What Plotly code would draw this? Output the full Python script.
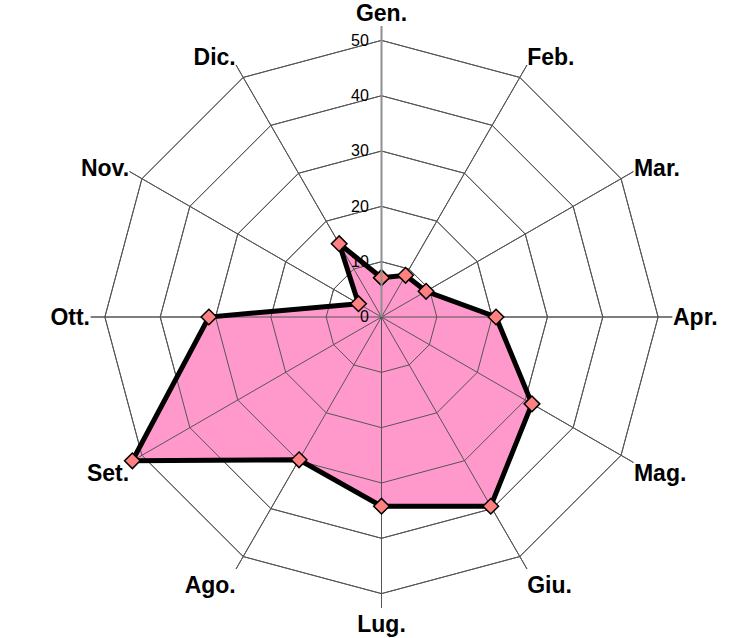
import plotly.graph_objects as go

months = ["Gen.", "Feb.", "Mar.", "Apr.", "Mag.", "Giu.",
          "Lug.", "Ago.", "Set.", "Ott.", "Nov.", "Dic."]
values = [7.1, 8.7, 9.3, 20.7, 31.4, 39.5, 34.2, 29.8, 52.0, 31.2, 4.8, 15.3]
radial_ticks = [0, 10, 20, 30, 40, 50]
radial_max = 52.6

GRID = "#555555"
fig = go.Figure()

# filled area (no outline)
fig.add_trace(go.Scatterpolar(
    r=values, theta=months, fill="toself", fillcolor="#FF99CC",
    mode="lines", line=dict(width=0, color="#FF99CC"), hoverinfo="skip",
    showlegend=False))

# web drawn over the fill (rings at each tick and spokes)
ring_r, ring_t = [], []
for t in radial_ticks[1:]:
    ring_r += [t] * (len(months) + 1) + [None]
    ring_t += months + [months[0], None]
fig.add_trace(go.Scatterpolar(r=ring_r, theta=ring_t, mode="lines",
                              line=dict(color=GRID, width=1), hoverinfo="skip",
                              showlegend=False, connectgaps=False))
sp_r, sp_t = [], []
for m in months:
    sp_r += [0, radial_max, None]
    sp_t += [m, m, None]
fig.add_trace(go.Scatterpolar(r=sp_r, theta=sp_t, mode="lines",
                              line=dict(color=GRID, width=1), hoverinfo="skip",
                              showlegend=False, connectgaps=False))

# data outline and markers
fig.add_trace(go.Scatterpolar(
    r=values + values[:1], theta=months + months[:1], mode="lines+markers",
    line=dict(color="black", width=5),
    marker=dict(symbol="diamond", size=12, color="#FF8080",
                line=dict(color="black", width=1.5)),
    showlegend=False))

W, H = 740, 638
cx, cy, R = 381.5, 317, 291
fig.update_layout(
    width=W, height=H, margin=dict(l=0, r=0, t=0, b=0),
    paper_bgcolor="white", plot_bgcolor="white",
    polar=dict(
        domain=dict(x=[(cx - R) / W, (cx + R) / W],
                    y=[1 - (cy + R) / H, 1 - (cy - R) / H]),
        bgcolor="white",
        gridshape="linear",
        angularaxis=dict(direction="clockwise", rotation=90,
                         showline=False, showgrid=True, gridcolor=GRID,
                         gridwidth=1, ticks="",
                         tickfont=dict(family="Liberation Sans, Arial", size=23,
                                       color="black", weight="bold")),
        radialaxis=dict(range=[0, radial_max], tickvals=radial_ticks,
                        showline=True, linecolor="#909090", linewidth=2,
                        showgrid=True, gridcolor=GRID, gridwidth=1,
                        angle=90, side="counterclockwise",
                        ticks="outside", ticklen=6,
                        tickcolor="rgba(0,0,0,0)",
                        tickangle=90, layer="above traces",
                        tickfont=dict(family="Liberation Sans, Arial", size=16,
                                      color="black")),
    ),
    showlegend=False,
)
fig.write_html("out.html", config={"displayModeBar": False},
               post_script="document.body.style.margin='0';"
                           "document.body.style.overflow='hidden';")
